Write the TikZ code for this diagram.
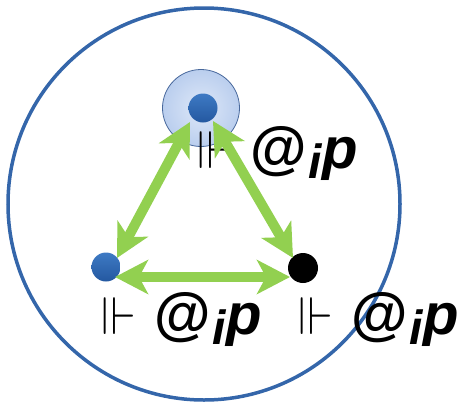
\documentclass[tikz,border=0pt]{standalone}
\usepackage{amssymb}
\usepackage{graphicx}
\usepackage{fontspec}
\setmainfont{Liberation Sans}
\usetikzlibrary{arrows.meta,calc}
\definecolor{ringblue}{RGB}{52,102,170}
\definecolor{arrgreen}{RGB}{146,208,80}
\definecolor{dotlight}{RGB}{62,122,196}
\definecolor{dotdark}{RGB}{36,88,160}
\definecolor{haloin}{RGB}{222,232,248}
\definecolor{haloout}{RGB}{186,206,238}
\definecolor{haloedge}{RGB}{72,104,156}
\newcommand{\frc}{\scalebox{4.8}[5.3]{$\Vdash$}}
\newcommand{\atip}{{\fontsize{58}{66}\selectfont\bfseries\itshape @\kern2pt\raisebox{-10pt}{\fontsize{48}{54}\selectfont i}\kern1pt p}}
\begin{document}
\begin{tikzpicture}[x=1pt,y=-1pt,
  ringstyle/.style={circle, draw=ringblue, line width=3.5pt, minimum size=392pt, inner sep=0pt},
  halostyle/.style={circle, inner color=haloin, outer color=haloout, draw=haloedge, line width=0.8pt, minimum size=77pt, inner sep=0pt},
  bluedot/.style={circle, top color=dotlight, bottom color=dotdark, draw=none, minimum size=29pt, inner sep=0pt},
  blackdot/.style={circle, fill=black, minimum size=30pt, inner sep=0pt},
  arr/.style={draw=arrgreen, line width=10pt, {Stealth[length=33pt,width=34pt,inset=9pt]}-{Stealth[length=33pt,width=34pt,inset=9pt]}},
  lbl/.style={anchor=base west, inner sep=0pt, text=black}]
\useasboundingbox (0,0) rectangle (460,402);
\node[ringstyle] (ring) at (204,204) {};
\node[halostyle] (halo) at (201,108) {};
\node[lbl] (ltop) at (197,168) {\frc\hspace{18pt}\atip};
\node[lbl] (lleft) at (101,334) {\frc\hspace{18pt}\atip};
\node[lbl] (lright) at (298,334) {\frc\hspace{18pt}\atip};
\node[bluedot] (top) at (203,108) {};
\node[bluedot] (left) at (106,267) {};
\node[blackdot] (right) at (303,268) {};
\coordinate (a1) at ($(top)+(-13,14)$);
\coordinate (a2) at ($(left)+(11,-9)$);
\coordinate (b1) at ($(top)+(10,13)$);
\coordinate (b2) at ($(right)+(-10,-10)$);
\coordinate (c1) at ($(left)+(9,10)$);
\coordinate (c2) at ($(right)+(-13,9)$);
\draw[arr] (a1) -- (a2);
\draw[arr] (b1) -- (b2);
\draw[arr] (c1) -- (c2);
\end{tikzpicture}
\end{document}
